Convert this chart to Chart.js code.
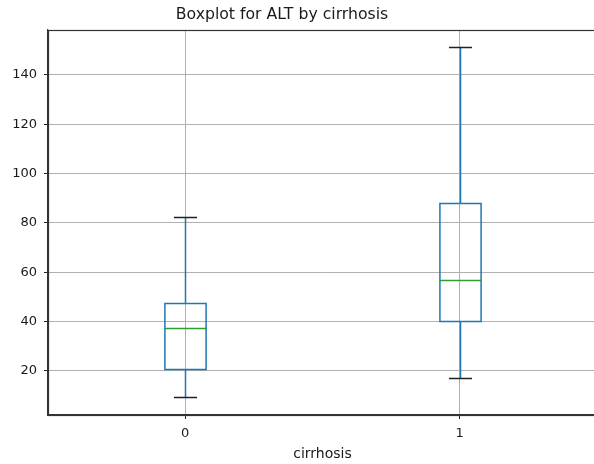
<!DOCTYPE html>
<html>
<head>
<meta charset="utf-8">
<script src="https://cdn.jsdelivr.net/npm/chart.js@4"></script>
<style>
  html, body { margin: 0; padding: 0; background: #fff; overflow: hidden; }
  #wrap { width: 600px; height: 464px; }
</style>
</head>
<body>
<div id="wrap"><canvas id="chart"></canvas></div>
<script>
// boxplot stats
const categories = ['0', '1'];
const whiskerLow = [9.4, 17.0];
const q1 = [20.8, 40.2];
const median = [37.5, 56.9];
const q3 = [47.4, 88.2];
const whiskerHigh = [82.4, 151.5];
const yTicks = [20, 40, 60, 80, 100, 120, 140];

const FONT = 'DejaVu Sans';
const textColor = '#1a1a1a';
const boxColor = '#1f77b4';
const medianColor = '#2ca02c';

const boxPlugin = {
    id: 'boxes',
    afterDatasetsDraw(chart) {
        const { ctx, chartArea: a } = chart;
        const x = chart.scales.x, y = chart.scales.y;
        const unit = x.getPixelForValue(1) - x.getPixelForValue(0);
        const halfBox = unit * 0.075;
        const halfCap = unit * 0.042;
        ctx.save();
        ctx.beginPath();
        ctx.rect(a.left, a.top, a.right - a.left, a.bottom - a.top);
        ctx.clip();
        categories.forEach((c, i) => {
            const cx = Math.round(x.getPixelForValue(i)) + 0.5;
            const py = v => Math.round(y.getPixelForValue(v)) + 0.5;
            ctx.lineWidth = 1.5;
            ctx.strokeStyle = boxColor;
            // whiskers
            ctx.beginPath();
            ctx.moveTo(cx, py(q3[i])); ctx.lineTo(cx, py(whiskerHigh[i]));
            ctx.moveTo(cx, py(q1[i])); ctx.lineTo(cx, py(whiskerLow[i]));
            ctx.stroke();
            // box
            ctx.strokeRect(cx - halfBox, py(q3[i]), halfBox * 2, py(q1[i]) - py(q3[i]));
            // median
            ctx.strokeStyle = medianColor;
            ctx.beginPath();
            ctx.moveTo(cx - halfBox, py(median[i])); ctx.lineTo(cx + halfBox, py(median[i]));
            ctx.stroke();
            // caps
            ctx.strokeStyle = '#222';
            ctx.beginPath();
            ctx.moveTo(cx - halfCap, py(whiskerHigh[i])); ctx.lineTo(cx + halfCap, py(whiskerHigh[i]));
            ctx.moveTo(cx - halfCap, py(whiskerLow[i])); ctx.lineTo(cx + halfCap, py(whiskerLow[i]));
            ctx.stroke();
        });
        ctx.restore();
        // frame
        ctx.save();
        ctx.strokeStyle = '#333';
        ctx.lineWidth = 1.2;
        ctx.strokeRect(Math.round(a.left) + 0.5, Math.round(a.top) + 0.5, a.right - a.left, a.bottom - a.top);
        // title
        ctx.fillStyle = textColor;
        ctx.font = '15.7px "' + FONT + '"';
        ctx.textAlign = 'center';
        ctx.textBaseline = 'middle';
        ctx.fillText('Boxplot for ALT by cirrhosis', 282, 15);
        ctx.restore();
    }
};

new Chart(document.getElementById('chart').getContext('2d'), {
    type: 'scatter',
    data: {
        datasets: [{
            data: categories.map((c, i) => ({ x: i, y: median[i] })),
            pointRadius: 0,
            pointHoverRadius: 0
        }]
    },
    options: {
        responsive: true,
        maintainAspectRatio: false,
        animation: false,
        events: [],
        layout: { padding: { top: 30, right: 3, left: 0, bottom: 0 } },
        plugins: { legend: { display: false }, tooltip: { enabled: false }, title: { display: false } },
        scales: {
            x: {
                type: 'linear',
                min: -0.5,
                max: 1.5,
                afterBuildTicks: s => { s.ticks = categories.map((c, i) => ({ value: i })); },
                afterFit: s => { s.height = 49; },
                ticks: {
                    callback: (v) => categories[v],
                    color: textColor,
                    font: { family: FONT, size: 13 },
                    padding: 7,
                    maxRotation: 0
                },
                grid: { color: '#b0b0b0', lineWidth: 1, tickLength: 4, tickColor: '#222' },
                border: { color: '#333', width: 1.2 },
                title: {
                    display: true,
                    text: 'cirrhosis',
                    color: textColor,
                    font: { family: FONT, size: 14 },
                    padding: { top: 2, bottom: 1 }
                }
            },
            y: {
                min: 2.1,
                max: 158.2,
                afterBuildTicks: s => { s.ticks = yTicks.map(v => ({ value: v })); },
                afterFit: s => { s.width = 48; },
                ticks: {
                    color: textColor,
                    font: { family: FONT, size: 13 },
                    padding: 7
                },
                grid: { color: '#b0b0b0', lineWidth: 1, tickLength: 4, tickColor: '#222' },
                border: { color: '#333', width: 1.2 }
            }
        }
    },
    plugins: [boxPlugin]
});
</script>
</body>
</html>
